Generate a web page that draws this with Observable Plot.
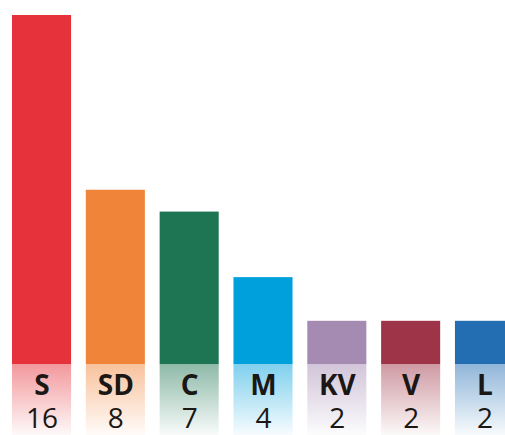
<!DOCTYPE html>
<html>
<head>
<meta charset="utf-8">
<script src="https://cdn.jsdelivr.net/npm/d3@7"></script>
<script src="https://cdn.jsdelivr.net/npm/@observablehq/plot@0.6"></script>
<style>
  html, body { margin: 0; padding: 0; background: #fff; overflow: hidden; }
</style>
</head>
<body>
<div id="chart"></div>
<script>
const parties = ["S", "SD", "C", "M", "KV", "V", "L"];
const seats = [16, 8, 7, 4, 2, 2, 2];
const colors = ["#e6323a", "#f0853a", "#1e7553", "#00a0dc", "#a58bb2", "#9e3447", "#236db3"];

const data = parties.map((p, i) => ({party: p, seats: seats[i], color: colors[i], grad: `url(#grad${i})`}));

const W = 505, H = 435;
const base = 364.5;

const chart = Plot.plot({
  width: W,
  height: H,
  marginLeft: 0, marginRight: 0, marginTop: 0, marginBottom: 0,
  style: {fontFamily: "'Open Sans', sans-serif", background: "#fff"},
  x: {type: "band", domain: parties, range: [12, 514], paddingInner: 0.2, paddingOuter: 0, round: false, axis: null},
  y: {domain: [0, 16], range: [base, 15], axis: null},
  color: {type: "identity"},
  marks: [
    Plot.barY(data, {x: "party", y: "seats", fill: "color", clip: true}),
    Plot.barY(data, {x: "party", y1: 0, y2: 0, fill: "grad", clip: true,
      insetTop: 0, insetBottom: -(H - base)}),
    Plot.text(data, {x: "party", y: 0, text: "party", dy: 21, fontSize: 28, fontWeight: "bold", fill: "#1a1714"}),
    Plot.text(data, {x: "party", y: 0, text: d => String(d.seats), dy: 54.5, fontSize: 28, fill: "#1a1714"})
  ]
});

// gradient definitions for the label boxes
const svg = d3.select(chart);
const defs = svg.insert("defs", ":first-child");
colors.forEach((c, i) => {
  const g = defs.append("linearGradient").attr("id", `grad${i}`)
    .attr("x1", 0).attr("y1", 0).attr("x2", 0).attr("y2", 1);
  g.append("stop").attr("offset", "0%").attr("stop-color", d3.interpolateRgb(c, "#fff")(0.5));
  g.append("stop").attr("offset", "100%").attr("stop-color", d3.interpolateRgb(c, "#fff")(0.97));
});

document.getElementById("chart").appendChild(chart);
</script>
</body>
</html>
